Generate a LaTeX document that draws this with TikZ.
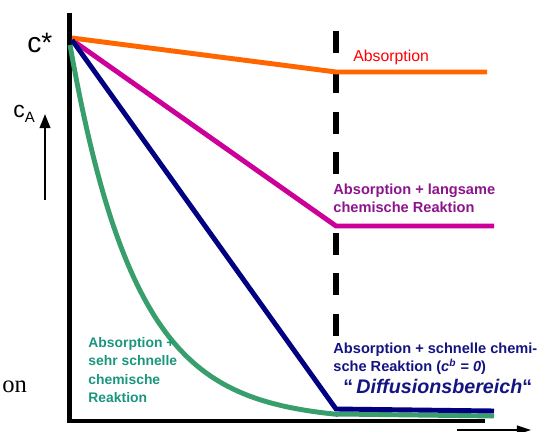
\documentclass[tikz,border=0pt]{standalone}
\usepackage{fontspec}
\setmainfont{Liberation Sans}
\newfontfamily\serifschrift{Liberation Serif}
\usetikzlibrary{arrows.meta}

\definecolor{orangelinie}{RGB}{255,102,0}
\definecolor{rottext}{RGB}{255,0,0}
\definecolor{magentalinie}{RGB}{204,0,153}
\definecolor{magentatext}{RGB}{140,20,140}
\definecolor{blaulinie}{RGB}{0,0,128}
\definecolor{blautext}{RGB}{20,20,130}
\definecolor{gruenlinie}{RGB}{56,158,108}
\definecolor{gruentext}{RGB}{25,150,125}

\tikzset{
	kurve/.style={line width=2.8pt},
	achse/.style={line width=2.8pt, line join=miter},
	beschr/.style={anchor=north west, inner sep=1.2pt, align=left, font=\fontsize{8.3}{10.6}\selectfont\bfseries},
}

\begin{document}
\begin{tikzpicture}[x=0.02cm, y=-0.02cm]
						\useasboundingbox (0,0) rectangle (545,432);
						\coordinate (ytop) at (69.5,13);
						\coordinate (orig) at (69.5,421);
						\coordinate (xend) at (485,421);
						\coordinate (d0) at (336,31);
						\coordinate (d1) at (336,336);
						\coordinate (o0) at (72,38);
						\coordinate (o1) at (336,72);
						\coordinate (o2) at (487,72);
						\coordinate (m0) at (72,40);
						\coordinate (m1) at (336,226);
						\coordinate (m2) at (494,226);
						\coordinate (n0) at (72,40);
						\coordinate (n1) at (336,409);
						\coordinate (n2) at (494,411);
						\coordinate (g0) at (70,45);
						\coordinate (g1) at (336,414);
						\coordinate (g2) at (494,416);
						\coordinate (ca0) at (45,200);
						\coordinate (ca1) at (45,114);
						\coordinate (z0) at (457,430);
						\coordinate (z1) at (531,430);
						\node[anchor=base west, inner sep=0, font=\fontsize{16}{16}\selectfont] (cstern) at (27,53) {c*};
						\node[anchor=base west, inner sep=0, font=\fontsize{13}{13}\selectfont] (ca) at (13,118) {c{\fontsize{8.5}{8.5}\selectfont\raisebox{-2.3pt}{A}}};
						\node[anchor=base west, inner sep=0, font=\serifschrift\fontsize{14}{14}\selectfont] (rest) at (2,393) {on};
						\draw[line width=3.2pt, dash pattern=on 12.5pt off 10.5pt] (d0) -- (d1);
						\draw[achse] (ytop) -- (orig) -- (xend);
						\draw[kurve, gruenlinie] (g0) -- plot[domain=70:336, samples=80] (\x, {421-376*exp(-0.0151*(\x-70))}) -- (g1) -- (g2);
						\draw[kurve, magentalinie] (m0) -- (m1) -- (m2);
						\draw[kurve, orangelinie] (o0) -- (o1) -- (o2);
						\draw[kurve, blaulinie] (n0) -- (n1) -- (n2);
						\draw[line width=1.2pt, -{Triangle[length=8pt, width=6pt]}] (ca0) -- (ca1);
						\draw[line width=1.1pt, -{Triangle[length=8pt, width=5pt]}] (z0) -- (z1);
						\node[anchor=base west, inner sep=0, text=rottext, font=\fontsize{9}{9}\selectfont] (absorp) at (353,62) {Absorption};
						\node[beschr, fill=white, text=magentatext] (langsam) at (331,181) {Absorption + langsame\\chemische Reaktion};
						\node[beschr, fill=white, text=blautext] (schnell) at (331,340) {Absorption + schnelle chemi-\\sche Reaktion (\textit{c}\textsuperscript{\textit{b}} = \textit{0})};
						\node[anchor=base west, inner sep=0, text=blautext, font=\fontsize{11.2}{14}\selectfont\bfseries] (diffus) at (343,394) {“\,\textit{Diffusionsbereich}“};
						\node[beschr, text=gruentext, font=\fontsize{7.9}{10.4}\selectfont\bfseries] (sehr) at (86,335) {Absorption +\\sehr schnelle\\chemische\\Reaktion};
					\end{tikzpicture}
\end{document}
